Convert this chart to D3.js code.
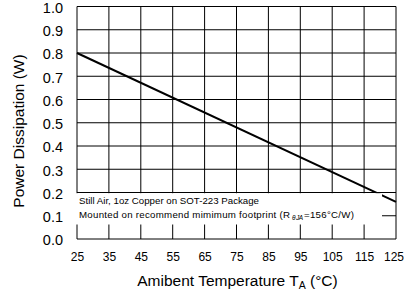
<!DOCTYPE html>
<html>
<head>
<meta charset="utf-8">
<script src="https://cdn.jsdelivr.net/npm/d3@7"></script>
<style>
  html, body { margin: 0; padding: 0; background: #fff; }
  svg { display: block; font-family: "Liberation Sans", Arial, sans-serif; }
</style>
</head>
<body>
<script>
// ---- data ----
const temperatures = [25, 125];          // °C
const powerDissipation = [0.8, 0.16];    // W
const xTicks = [25, 35, 45, 55, 65, 75, 85, 95, 105, 115, 125];
const yTicks = [0.0, 0.1, 0.2, 0.3, 0.4, 0.5, 0.6, 0.7, 0.8, 0.9, 1.0];
const xTitle = "Amibent Temperature T";
const xTitleSub = "A";
const xTitleEnd = " (°C)";
const yTitle = "Power Dissipation (W)";
const noteLine1 = "Still Air, 1oz Copper on SOT-223 Package";
const noteLine2a = "Mounted on recommend mimimum footprint (R";
const noteLine2sub = "θ JA";
const noteLine2b = "=156°C/W)";

(function () {
const W = 404, H = 292;
const pl = 77, pr = 396, pt = 6.5, pb = 239;

const svg = d3.select("body").append("svg").attr("width", W).attr("height", H);

const x = d3.scaleLinear().domain([25, 125]).range([pl, pr]);
const y = d3.scaleLinear().domain([0, 1]).range([pb, pt]);

// grid
const grid = svg.append("g").attr("stroke", "#000").attr("stroke-width", 1);
grid.selectAll("line.v").data(xTicks).enter().append("line").attr("class", "v")
  .attr("x1", d => x(d)).attr("x2", d => x(d))
  .attr("y1", y(0)).attr("y2", y(1));
grid.selectAll("line.h").data(yTicks).enter().append("line").attr("class", "h")
  .attr("x1", x(25)).attr("x2", x(125))
  .attr("y1", d => y(d)).attr("y2", d => y(d));

// derating line
const pts = temperatures.map((t, i) => [t, powerDissipation[i]]);
svg.append("path")
  .datum(pts)
  .attr("fill", "none")
  .attr("stroke", "#000")
  .attr("stroke-width", 2)
  .attr("d", d3.line().x(d => x(d[0])).y(d => y(d[1])));

// annotation box (white, covers grid)
const bx0 = x(25) - 2, by0 = y(0.2) + 0.7;
svg.append("rect")
  .attr("x", bx0).attr("y", by0)
  .attr("width", 382 - bx0).attr("height", 224.5 - by0)
  .attr("fill", "#fff");

const note = svg.append("g").attr("font-size", 9.7).attr("fill", "#000");
note.append("text").attr("x", 79).attr("y", 204)
  .attr("textLength", 180).attr("lengthAdjust", "spacing").text(noteLine1);
const t2 = note.append("text").attr("x", 79).attr("y", 218);
t2.append("tspan").attr("textLength", 211).attr("lengthAdjust", "spacing").text(noteLine2a);
t2.append("tspan").attr("x", 292).attr("font-size", 6.5).attr("font-style", "italic").attr("dy", 2)
  .attr("textLength", 11).attr("lengthAdjust", "spacing").text(noteLine2sub);
t2.append("tspan").attr("x", 304).attr("dy", -2)
  .attr("textLength", 50).attr("lengthAdjust", "spacing").text(noteLine2b);

// axes labels
const xAxis = d3.axisBottom(x).tickValues(xTicks).tickSize(0).tickPadding(0).tickFormat(d3.format("d"));
const gx = svg.append("g").attr("transform", `translate(0,${pb})`).call(xAxis);
gx.select(".domain").remove();
gx.selectAll("text").attr("font-size", 12).attr("font-family", "Liberation Sans, Arial, sans-serif")
  .attr("y", 22).attr("dy", null).attr("fill", "#000")
  .attr("dx", d => d === 125 ? -2.5 : 0);

const yAxis = d3.axisLeft(y).tickValues(yTicks).tickSize(0).tickPadding(0).tickFormat(d3.format(".1f"));
const gy = svg.append("g").attr("transform", `translate(63,0)`).call(yAxis);
gy.select(".domain").remove();
gy.selectAll("text").attr("font-size", 14.5).attr("font-family", "Liberation Sans, Arial, sans-serif")
  .attr("x", 0).attr("dy", "0.4em").attr("fill", "#000");

// titles
const xt = svg.append("text").attr("x", (pl + pr) / 2 + 1).attr("y", 286)
  .attr("text-anchor", "middle").attr("font-size", 15.5).attr("fill", "#000");
xt.append("tspan").text(xTitle);
xt.append("tspan").attr("font-size", 10.5).attr("dy", 3).text(xTitleSub);
xt.append("tspan").attr("dy", -3).text(xTitleEnd);

svg.append("text")
  .attr("transform", `translate(24,131) rotate(-90)`)
  .attr("text-anchor", "middle").attr("font-size", 15.5).attr("fill", "#000")
  .text(yTitle);
})();
</script>
</body>
</html>
